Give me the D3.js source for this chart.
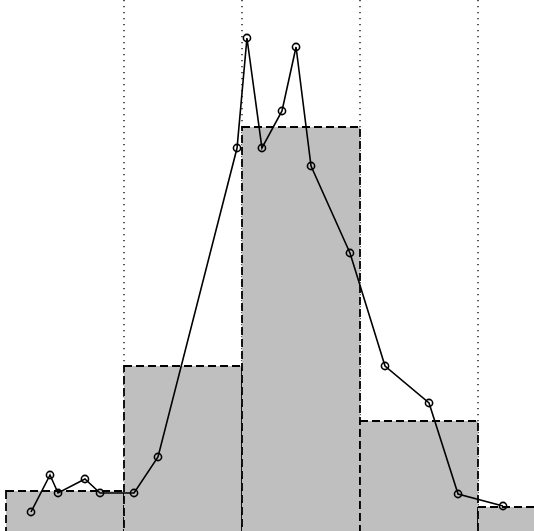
<!DOCTYPE html>
<html><head><meta charset="utf-8">
<script src="https://cdn.jsdelivr.net/npm/d3@7"></script>
<style>html,body{margin:0;padding:0;background:#fff;overflow:hidden}</style>
</head><body>
<svg id="c" width="534" height="531"></svg>
<script>
const binEdges = [0, 1, 2, 3, 4, 5];
const binCounts = [40, 165, 404, 110, 24];
const gridLines = [1, 2, 3, 4];
const pointX = [0.212, 0.373, 0.441, 0.669, 0.797, 1.085, 1.288, 1.958, 2.042, 2.169, 2.339, 2.458, 2.585, 2.915, 3.212, 3.585, 3.831, 4.212];
const pointY = [19, 56, 38, 52, 38, 38, 74, 383, 493, 383, 420, 484, 365, 278, 165, 128, 37, 25];

const svg = d3.select("#c");
const x = d3.scaleLinear().domain([0, 1]).range([6, 124]);
const y = d3.scaleLinear().domain([0, 500]).range([531, 31]);

svg.selectAll("line.grid").data(gridLines).join("line")
  .attr("x1", d => x(d)).attr("x2", d => x(d))
  .attr("y1", 0).attr("y2", 531)
  .attr("stroke", "#000").attr("stroke-width", 1.3)
  .attr("stroke-dasharray", "1.3,4.7");

const bins = binCounts.map((c, i) => ({x0: binEdges[i], x1: binEdges[i + 1], c}));
svg.selectAll("rect.bar").data(bins).join("rect")
  .attr("x", d => x(d.x0)).attr("width", d => x(d.x1) - x(d.x0))
  .attr("y", d => y(d.c)).attr("height", d => y(-20) - y(d.c))
  .attr("fill", "#bfbfbf").attr("stroke", "#000").attr("stroke-width", 1.8)
  .attr("stroke-dasharray", "8,4");

const pts = pointX.map((v, i) => [v, pointY[i]]);
svg.append("path").datum(pts)
  .attr("d", d3.line().x(d => x(d[0])).y(d => y(d[1])))
  .attr("fill", "none").attr("stroke", "#000").attr("stroke-width", 1.6);
svg.selectAll("circle.pt").data(pts).join("circle")
  .attr("cx", d => x(d[0])).attr("cy", d => y(d[1])).attr("r", 3.6)
  .attr("fill", "none").attr("stroke", "#000").attr("stroke-width", 1.6);
</script>
</body></html>
